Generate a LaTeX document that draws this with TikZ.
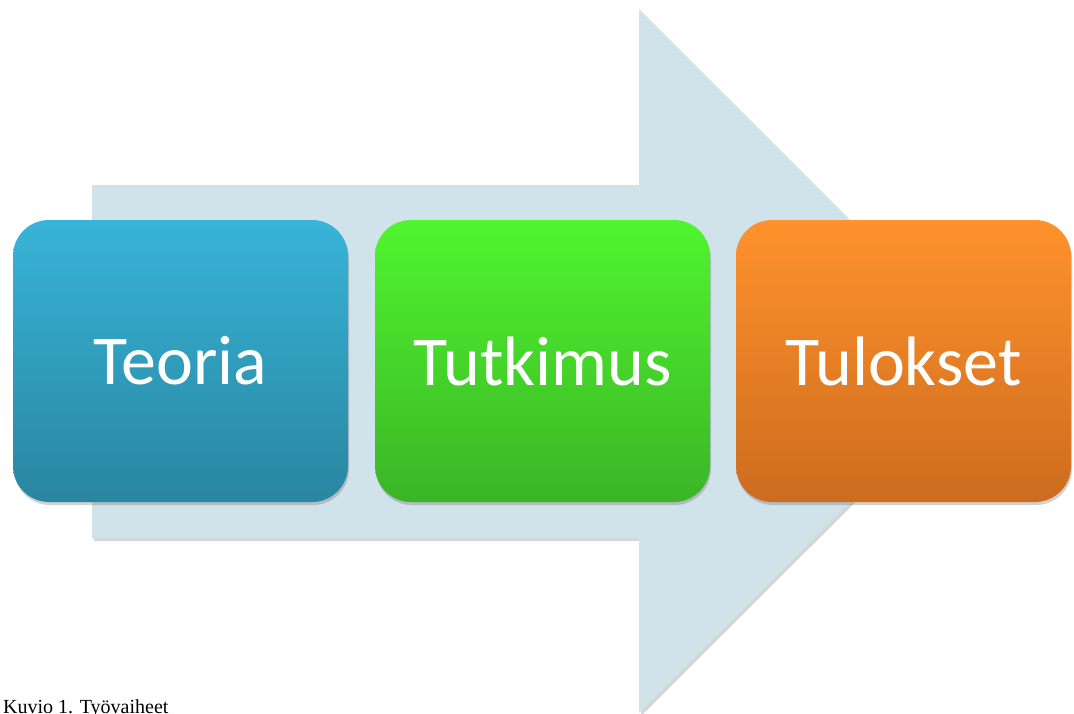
\documentclass[tikz,border=0pt]{standalone}
\usepackage{fontspec}
\setmainfont{Liberation Serif}
\newfontfamily\boxfont{Carlito}
\usetikzlibrary{shadows}
\definecolor{arrowfill}{HTML}{D0E2EA}
\definecolor{bluetop}{HTML}{38B4D8}
\definecolor{bluebot}{HTML}{2986A0}
\definecolor{greentop}{HTML}{50F52F}
\definecolor{greenbot}{HTML}{3BB526}
\definecolor{orangetop}{HTML}{FF922C}
\definecolor{orangebot}{HTML}{CD6C1F}
\tikzset{
  stagebox/.style={rounded corners=36pt, minimum width=335pt, minimum height=282pt,
    inner sep=0pt, text=white, font=\boxfont\fontsize{70}{70}\selectfont,
    drop shadow={shadow xshift=1pt, shadow yshift=-3pt, opacity=0.3, fill=black!60}},
}
\begin{document}
\begin{tikzpicture}[x=1pt,y=-1pt]
\useasboundingbox (0,0) rectangle (1074,713);
\clip (0,0) rectangle (1074,713);
\fill[black!40, opacity=0.4] (94,188) -- (641,188) -- (641,12) -- (994,364) -- (641,716) -- (641,541) -- (94,541) -- cycle;
\fill[arrowfill] (92,185) -- (639,185) -- (639,9) -- (991,361) -- (639,713) -- (639,538) -- (92,538) -- cycle;
\node[stagebox, top color=bluetop, bottom color=bluebot] (teoria) at (180.5,361) {Teoria};
\node[stagebox, top color=greentop, bottom color=greenbot] (tutkimus) at (542.5,361) {Tutkimus};
\node[stagebox, top color=orangetop, bottom color=orangebot] (tulokset) at (903.5,361) {Tulokset};
\node[anchor=base west, inner sep=0pt, font=\fontsize{20}{20}\selectfont] (caption) at (3,713) {Kuvio 1. Työvaiheet};
\end{tikzpicture}
\end{document}
